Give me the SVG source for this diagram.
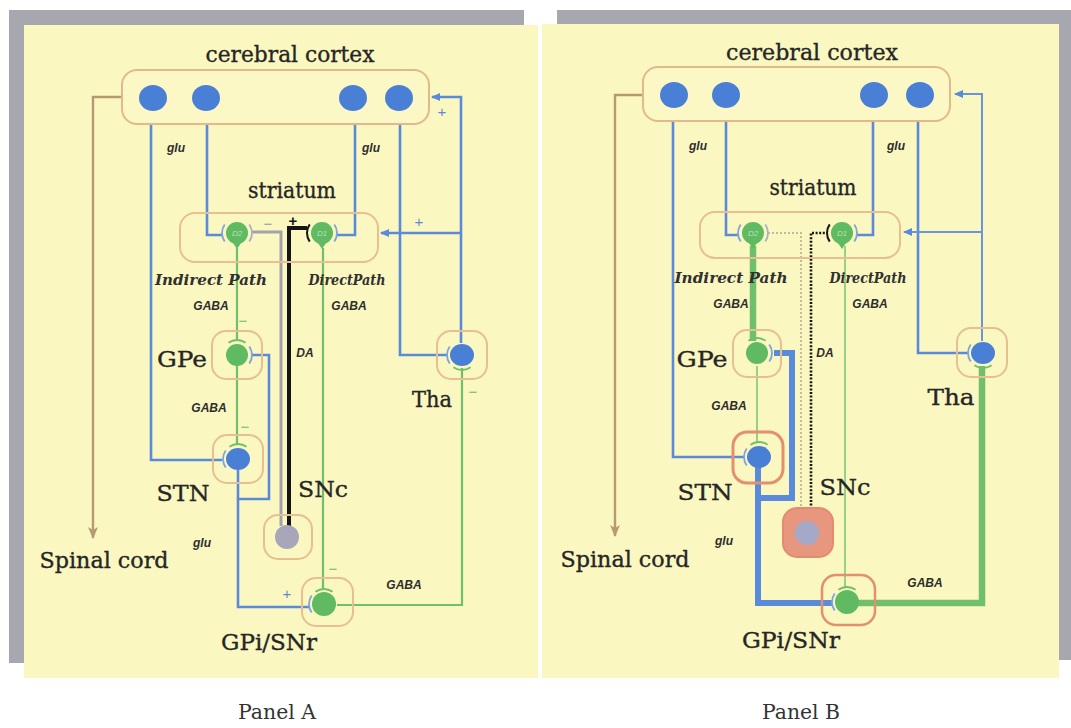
<svg xmlns="http://www.w3.org/2000/svg" xmlns:xlink="http://www.w3.org/1999/xlink" width="1071" height="728" viewBox="0 0 1071 728">
<style>
.shadow{fill:#a7a7af}
.panel{fill:#fbf7c0}
.cbox{fill:#fcf8c6;stroke:#e2b98c;stroke-width:2}
.box{fill:none;stroke:#e6bf92;stroke-width:2}
.boxr{fill:none;stroke:#e2906e;stroke-width:3}
.bdot{fill:#4a7fd6}
.gdot{fill:#5fba62}
.sdot{fill:#a7a7b9}
.blue{fill:none;stroke:#5a8ada;stroke-width:2.6}
.blueT{fill:none;stroke:#5a8ada;stroke-width:6}
.blueS{fill:none;stroke:#6a94dc;stroke-width:2}
.green{fill:none;stroke:#6fbf6d;stroke-width:2.2}
.greenT{fill:none;stroke:#6fbf6d;stroke-width:6.5}
.greenS{fill:none;stroke:#76c374;stroke-width:1.5}
.brown{fill:none;stroke:#b89a72;stroke-width:2.4}
.daG{fill:none;stroke:#a3a3ab;stroke-width:3}
.daK{fill:none;stroke:#151515;stroke-width:4}
.daGd{fill:none;stroke:#b3a894;stroke-width:1.5;stroke-dasharray:2 2}
.daKd{fill:none;stroke:#151515;stroke-width:2.6;stroke-dasharray:2 1.6}
.aB{fill:none;stroke:#7ea2e2;stroke-width:1.8}
.aG{fill:none;stroke:#6fbf6d;stroke-width:1.8}
.aK{fill:none;stroke:#151515;stroke-width:2}
.aS{fill:none;stroke:#a8b0c8;stroke-width:1.8}
.lbl{font-family:"DejaVu Serif","Liberation Serif",serif;font-size:23px;fill:#262626;stroke:#262626;stroke-width:0.35;text-anchor:middle}
.sm{font-family:"Liberation Sans",Arial,sans-serif;font-size:12px;font-weight:bold;font-style:italic;fill:#2d2d2d;text-anchor:middle}
.pth{font-family:"DejaVu Serif","Liberation Serif",serif;font-size:15px;font-weight:bold;font-style:italic;fill:#303030;text-anchor:middle}
.cap{font-family:"DejaVu Serif","Liberation Serif",serif;font-size:20px;fill:#333;text-anchor:middle}
.sg{font-family:"Liberation Sans",Arial,sans-serif;font-size:15px;text-anchor:middle}
.sgB{fill:#5a8ada}
.sgG{fill:#6fbf6d}
.sgA{fill:#9a9aa2}
.sgK{fill:#151515;font-weight:bold}
.dl{font-family:"Liberation Sans",Arial,sans-serif;font-size:8px;font-style:italic;fill:#b8e2b4;text-anchor:middle}
</style>
<defs>
<marker id="arB" markerUnits="userSpaceOnUse" markerWidth="9" markerHeight="8" refX="8" refY="4" orient="auto"><path d="M0,0 L9,4 L0,8 z" fill="#5a8ada"/></marker>
<marker id="arBr" markerUnits="userSpaceOnUse" markerWidth="12" markerHeight="10" refX="11" refY="5" orient="auto"><path d="M0,0 L12,5 L0,10 L3,5 z" fill="#b89a72"/></marker>
<path id="sL" d="M-12.3,-8.6 A15,15 0 0 0 -12.3,8.6"/>
<path id="sR" d="M12.3,-8.6 A15,15 0 0 1 12.3,8.6"/>
<path id="sT" d="M-8.6,-12.3 A15,15 0 0 1 8.6,-12.3"/>
<path id="sB" d="M-8.6,12.3 A15,15 0 0 0 8.6,12.3"/>
<path id="tear" d="M-6,7 L0,16 L6,7 z"/>
</defs>

<!-- ================= PANEL A ================= -->
<g id="panelA-frame">
<rect class="shadow" x="9" y="10" width="515" height="653"/>
<rect class="panel" x="24" y="25" width="514" height="653"/>
</g>

<g id="connectorsA">
<path class="brown" d="M122,97 H93 V538" marker-end="url(#arBr)"/>
<path class="blue" d="M151,110 V460 H222"/>
<path class="blue" d="M207,110 V235 H223"/>
<path class="blue" d="M355,110 V235 H336"/>
<path class="blue" d="M400,110 V355 H447"/>
<path class="blue" d="M461,343 V97 H432" marker-end="url(#arB)"/>
<path class="blue" d="M461,233 H381" marker-end="url(#arB)"/>
<path class="green" d="M237,248 V341"/>
<path class="green" d="M237,366 V444"/>
<path class="green" d="M323,248 V589"/>
<path class="green" d="M462,368 V605 H337"/>
<path class="blue" d="M238,470 V607 H310"/>
<path class="blue" d="M238,499 H269 V355 H251"/>
<path class="daG" d="M251,232 H281 V526"/>
<path class="daK" d="M289,527 V228 H307"/>
</g>

<g id="cortexA">
<rect class="cbox" x="122" y="70" width="307" height="54" rx="15"/>
<text class="lbl" x="290" y="62" textLength="169" lengthAdjust="spacingAndGlyphs">cerebral cortex</text>
<ellipse class="bdot" cx="153" cy="98" rx="14" ry="13"/>
<ellipse class="bdot" cx="206" cy="98" rx="14" ry="13"/>
<ellipse class="bdot" cx="353" cy="98" rx="14" ry="13"/>
<ellipse class="bdot" cx="399" cy="98" rx="14" ry="13"/>
</g>

<g id="striatumA">
<rect class="box" x="180" y="213" width="198" height="49" rx="15"/>
<text class="lbl" x="292" y="198" textLength="88" lengthAdjust="spacingAndGlyphs">striatum</text>
</g>

<g id="d2A">
<circle class="gdot" cx="237" cy="233" r="11"/>
<use href="#tear" x="237" y="233" class="gdot"/>
<text class="dl" x="237" y="236">D2</text>
<use href="#sL" x="237" y="233" class="aB"/>
<use href="#sR" x="237" y="233" class="aS"/>
</g>

<g id="d1A">
<circle class="gdot" cx="322" cy="233" r="11"/>
<use href="#tear" x="322" y="233" class="gdot"/>
<text class="dl" x="322" y="236">D1</text>
<use href="#sL" x="322" y="233" class="aK"/>
<use href="#sR" x="322" y="233" class="aB"/>
</g>

<g id="gpeA">
<rect class="box" x="212" y="331" width="50" height="48" rx="14"/>
<circle class="gdot" cx="237" cy="355" r="11"/>
<use href="#sT" x="237" y="355" class="aG"/>
<use href="#sR" x="237" y="355" class="aB"/>
<text class="lbl" x="182" y="367" textLength="50" lengthAdjust="spacingAndGlyphs">GPe</text>
</g>

<g id="thaA">
<rect class="box" x="437" y="331" width="50" height="48" rx="14"/>
<ellipse class="bdot" cx="462" cy="355" rx="12" ry="11"/>
<use href="#sL" x="462" y="355" class="aB"/>
<use href="#sB" x="462" y="355" class="aG"/>
<text class="lbl" x="432" y="407" textLength="40" lengthAdjust="spacingAndGlyphs">Tha</text>
</g>

<g id="stnA">
<rect class="box" x="213" y="435" width="50" height="48" rx="14"/>
<ellipse class="bdot" cx="238" cy="459" rx="12" ry="11"/>
<use href="#sT" x="238" y="459" class="aG"/>
<use href="#sL" x="238" y="459" class="aB"/>
<text class="lbl" x="183" y="501" textLength="53" lengthAdjust="spacingAndGlyphs">STN</text>
</g>

<g id="sncA">
<rect class="box" x="264" y="515" width="48" height="44" rx="14"/>
<circle class="sdot" cx="287" cy="537" r="12"/>
<text class="lbl" x="323" y="497" textLength="50" lengthAdjust="spacingAndGlyphs">SNc</text>
</g>

<g id="gpiA">
<rect class="box" x="302" y="578" width="51" height="48" rx="14"/>
<circle class="gdot" cx="324" cy="604" r="12"/>
<use href="#sT" x="324" y="604" class="aG"/>
<use href="#sL" x="324" y="604" class="aB"/>
<text class="lbl" x="269" y="650" textLength="96" lengthAdjust="spacingAndGlyphs">GPi/SNr</text>
</g>

<g id="spinalA">
<text class="lbl" x="104" y="568" textLength="129" lengthAdjust="spacingAndGlyphs">Spinal cord</text>
</g>

<g id="labelsA">
<text class="sm" x="176" y="152">glu</text>
<text class="sm" x="371" y="152">glu</text>
<text class="pth" x="211" y="285" textLength="112" lengthAdjust="spacingAndGlyphs">Indirect Path</text>
<text class="pth" x="347" y="285" textLength="77" lengthAdjust="spacingAndGlyphs">DirectPath</text>
<text class="sm" x="211" y="310">GABA</text>
<text class="sm" x="349" y="310">GABA</text>
<text class="sm" x="305" y="357">DA</text>
<text class="sm" x="209" y="412">GABA</text>
<text class="sm" x="202" y="547">glu</text>
<text class="sm" x="404" y="589">GABA</text>
<text class="sg sgB" x="442" y="117">+</text>
<text class="sg sgB" x="419" y="227">+</text>
<text class="sg sgA" x="268" y="229">−</text>
<text class="sg sgK" x="293" y="226">+</text>
<text class="sg sgG" x="243" y="326">−</text>
<text class="sg sgG" x="473" y="397">−</text>
<text class="sg sgG" x="245" y="432">−</text>
<text class="sg sgG" x="333" y="574">−</text>
<text class="sg sgB" x="287" y="599">+</text>
<text class="cap" x="277" y="719" textLength="78" lengthAdjust="spacingAndGlyphs">Panel A</text>
</g>

<!-- ================= PANEL B ================= -->
<g id="panelB-frame">
<rect class="shadow" x="557" y="10" width="514" height="650"/>
<rect class="panel" x="542" y="24" width="517" height="654"/>
</g>

<g id="connectorsB">
<path class="brown" d="M643,95 H615 V536" marker-end="url(#arBr)"/>
<path class="blue" d="M673,106 V457 H744"/>
<path class="blue" d="M726,106 V235 H739"/>
<path class="blue" d="M873,106 V235 H856"/>
<path class="blue" d="M918,106 V353 H968"/>
<path class="blueS" d="M982,341 V94 H955" marker-end="url(#arB)"/>
<path class="blueS" d="M982,232 H904" marker-end="url(#arB)"/>
<path class="greenT" d="M753,246 V341"/>
<path class="greenS" d="M757,366 V442"/>
<path class="greenS" d="M845,246 V587"/>
<path class="greenT" d="M982,366 V603 H858"/>
<path class="blueT" d="M758,466 V603 H833"/>
<path class="blueT" d="M758,498 H792 V353 H774"/>
<path class="daGd" d="M768,233 H801 V518"/>
<path class="daKd" d="M811,520 V233 H826"/>
</g>

<g id="cortexB">
<rect class="cbox" x="643" y="67" width="307" height="54" rx="15"/>
<text class="lbl" x="812" y="60" textLength="172" lengthAdjust="spacingAndGlyphs">cerebral cortex</text>
<ellipse class="bdot" cx="674" cy="95" rx="14" ry="13"/>
<ellipse class="bdot" cx="726" cy="95" rx="14" ry="13"/>
<ellipse class="bdot" cx="874" cy="95" rx="14" ry="13"/>
<ellipse class="bdot" cx="920" cy="95" rx="14" ry="13"/>
</g>

<g id="striatumB">
<rect class="box" x="700" y="212" width="200" height="46" rx="15"/>
<text class="lbl" x="813" y="195" textLength="87" lengthAdjust="spacingAndGlyphs">striatum</text>
</g>

<g id="d2B">
<circle class="gdot" cx="753" cy="233" r="11"/>
<use href="#tear" x="753" y="233" class="gdot"/>
<text class="dl" x="753" y="236">D2</text>
<use href="#sL" x="753" y="233" class="aB"/>
<use href="#sR" x="753" y="233" class="aS"/>
</g>

<g id="d1B">
<circle class="gdot" cx="842" cy="233" r="11"/>
<use href="#tear" x="842" y="233" class="gdot"/>
<text class="dl" x="842" y="236">D1</text>
<use href="#sL" x="842" y="233" class="aK"/>
<use href="#sR" x="842" y="233" class="aB"/>
</g>

<g id="gpeB">
<rect class="box" x="733" y="330" width="48" height="47" rx="14"/>
<circle class="gdot" cx="757" cy="353" r="11"/>
<use href="#sT" x="757" y="353" class="aG"/>
<use href="#sR" x="757" y="353" class="aB"/>
<text class="lbl" x="702" y="367" textLength="51" lengthAdjust="spacingAndGlyphs">GPe</text>
</g>

<g id="thaB">
<rect class="box" x="957" y="328" width="50" height="49" rx="14"/>
<ellipse class="bdot" cx="983" cy="353" rx="12" ry="11"/>
<use href="#sL" x="983" y="353" class="aB"/>
<use href="#sB" x="983" y="353" class="aG"/>
<text class="lbl" x="951" y="405" textLength="47" lengthAdjust="spacingAndGlyphs">Tha</text>
</g>

<g id="stnB">
<rect class="boxr" x="733" y="432" width="50" height="51" rx="14"/>
<ellipse class="bdot" cx="759" cy="457" rx="12" ry="11"/>
<use href="#sT" x="759" y="457" class="aG"/>
<use href="#sL" x="759" y="457" class="aB"/>
<text class="lbl" x="705" y="500" textLength="55" lengthAdjust="spacingAndGlyphs">STN</text>
</g>

<g id="sncB">
<rect x="783" y="508" width="50" height="49" rx="14" fill="#e8977f" stroke="#e28a72" stroke-width="2"/>
<circle cx="807" cy="533" r="12" fill="#a3a9c6"/>
<text class="lbl" x="845" y="495" textLength="51" lengthAdjust="spacingAndGlyphs">SNc</text>
</g>

<g id="gpiB">
<rect class="boxr" x="822" y="575" width="53" height="50" rx="14" style="stroke-width:2.5"/>
<circle class="gdot" cx="847" cy="602" r="12"/>
<use href="#sT" x="847" y="602" class="aG"/>
<use href="#sL" x="847" y="602" class="aB"/>
<text class="lbl" x="791" y="648" textLength="98" lengthAdjust="spacingAndGlyphs">GPi/SNr</text>
</g>

<g id="spinalB">
<text class="lbl" x="625" y="567" textLength="129" lengthAdjust="spacingAndGlyphs">Spinal cord</text>
</g>

<g id="labelsB">
<text class="sm" x="698" y="150">glu</text>
<text class="sm" x="896" y="150">glu</text>
<text class="pth" x="731" y="283" textLength="113" lengthAdjust="spacingAndGlyphs">Indirect Path</text>
<text class="pth" x="868" y="283" textLength="77" lengthAdjust="spacingAndGlyphs">DirectPath</text>
<text class="sm" x="731" y="308">GABA</text>
<text class="sm" x="870" y="308">GABA</text>
<text class="sm" x="825" y="357">DA</text>
<text class="sm" x="729" y="410">GABA</text>
<text class="sm" x="724" y="545">glu</text>
<text class="sm" x="925" y="587">GABA</text>
<text class="cap" x="801" y="719" textLength="78" lengthAdjust="spacingAndGlyphs">Panel B</text>
</g>
</svg>
